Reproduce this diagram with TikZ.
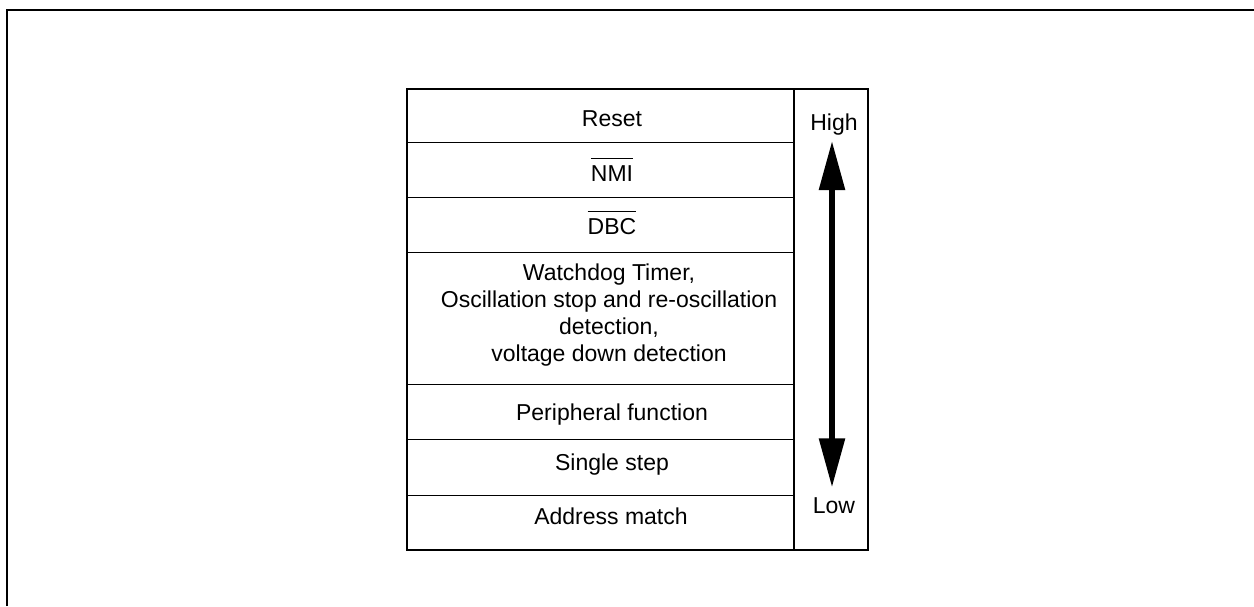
\documentclass[tikz,border=0pt]{standalone}
\usepackage{fontspec}
\setmainfont{Liberation Sans}
\usetikzlibrary{arrows.meta}
\newcommand\ovbar[1]{\vbox{\hrule height 1.1pt\kern 6.5pt\hbox{#1}}}
\begin{document}
\begin{tikzpicture}[x=1pt,y=-1pt,
  lbl/.style={inner sep=0pt,font=\fontsize{23}{26.8}\selectfont,anchor=base},
  rowline/.style={line width=1pt},
  frame/.style={line width=2.2pt}]
\useasboundingbox (0,0) rectangle (1254,606);
% outer frame (top and left only)
\draw[frame] (7,606) -- (7,10.3) -- (1254,10.3);
% table
\draw[line width=1.4pt] (407,89) rectangle (868,550);
\draw[line width=1.2pt] (794,89) -- (794,550);
\foreach \y in {142,197,252,384,439,495}
  \draw[rowline] (407,\y) -- (794,\y);
% labels
\node[lbl] (reset)  at (612,126.7) {Reset};
\node[lbl] (nmi)    at (612,181.7) {\ovbar{NMI}};
\node[lbl] (dbc)    at (612,234.3) {\ovbar{DBC}};
\node[lbl,anchor=center,align=center] (wdt) at (609,315)
  {Watchdog Timer,\\Oscillation stop and re-oscillation\\detection,\\voltage down detection};
\node[lbl] (periph) at (612,420) {Peripheral function};
\node[lbl] (sstep)  at (612,470) {Single step};
\node[lbl] (addr)   at (611,524) {Address match};
\node[lbl] (high)   at (834,130) {High};
\node[lbl] (low)    at (834,513.3) {Low};
% arrow
\coordinate (atop) at (832,141);
\coordinate (abot) at (832,487.3);
\draw[line width=5.7pt,{Triangle[length=49pt,width=25pt]}-{Triangle[length=49pt,width=25pt]}] (atop) -- (abot);
\end{tikzpicture}
\end{document}
